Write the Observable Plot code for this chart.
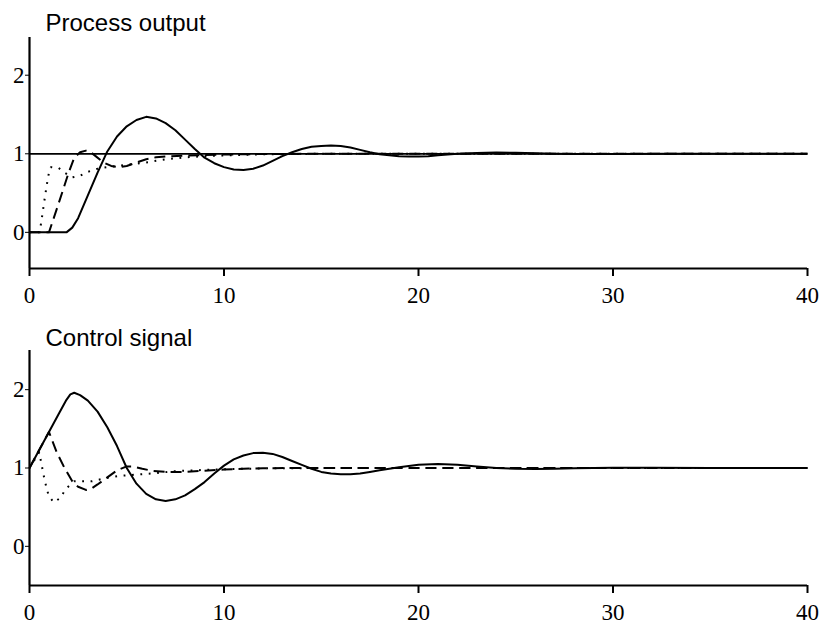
<!DOCTYPE html>
<html><head><meta charset="utf-8">
<script src="https://cdn.jsdelivr.net/npm/d3@7"></script>
<script src="https://cdn.jsdelivr.net/npm/@observablehq/plot@0.6"></script>
<style>
html,body{margin:0;padding:0;background:#fff}
#chart svg{display:block}
</style>
</head><body><div id="chart"></div>
<script>
// ---- tick labels / titles ----
const xTicks = [0, 10, 20, 30, 40];
const yTicks = [0, 1, 2];
const panelTitles = ["Process output", "Control signal"];
const setpoint = [1];

// ---- Process output: solid ----
const outSolidT = [0, 1.9, 2.2, 2.5, 3, 3.5, 4, 4.5, 5, 5.5, 6, 6.5, 7, 7.5, 8, 8.5, 9, 9.5, 10, 10.5, 11, 11.5, 12, 12.5, 13, 13.5, 14, 14.5, 15, 15.5, 16, 16.5, 17, 17.5, 18, 18.5, 19, 19.5, 20, 20.5, 21, 22, 23, 24, 25, 26, 27, 28, 30, 33, 40];
const outSolidV = [0, 0, 0.06, 0.18, 0.47, 0.76, 1.03, 1.22, 1.35, 1.43, 1.47, 1.45, 1.39, 1.30, 1.18, 1.06, 0.95, 0.88, 0.83, 0.80, 0.795, 0.81, 0.85, 0.91, 0.97, 1.02, 1.06, 1.09, 1.10, 1.105, 1.10, 1.08, 1.05, 1.02, 0.995, 0.98, 0.968, 0.965, 0.966, 0.97, 0.98, 1.0, 1.01, 1.015, 1.013, 1.008, 1.0, 0.997, 0.998, 1.0, 1.0];
// ---- Process output: dashed ----
const outDashT = [0, 1.0, 1.5, 2.0, 2.3, 2.6, 2.9, 3.1, 3.4, 3.8, 4.2, 4.6, 5.0, 5.5, 6.0, 6.5, 7, 8, 9, 10, 12, 15, 40];
const outDashV = [0, 0, 0.37, 0.75, 0.95, 1.02, 1.04, 1.03, 0.97, 0.89, 0.845, 0.83, 0.845, 0.89, 0.93, 0.955, 0.965, 0.975, 0.985, 0.99, 0.997, 1, 1];
// ---- Process output: dotted ----
const outDotT = [0, 0.5, 0.6, 0.75, 0.9, 1.0, 1.1, 1.5, 1.8, 2.2, 2.6, 3.0, 3.5, 4, 5, 6, 7, 8, 9, 10, 12, 15, 40];
const outDotV = [0, 0, 0.12, 0.38, 0.62, 0.76, 0.83, 0.82, 0.76, 0.70, 0.72, 0.77, 0.81, 0.83, 0.86, 0.89, 0.93, 0.955, 0.97, 0.98, 0.993, 1, 1];

// ---- Control signal: solid ----
const ctlSolidT = [0, 0.5, 1, 1.5, 1.9, 2.1, 2.3, 2.6, 3, 3.5, 4, 4.5, 5, 5.5, 6, 6.5, 7, 7.5, 8, 8.5, 9, 9.5, 10, 10.5, 11, 11.5, 12, 12.5, 13, 13.5, 14, 14.5, 15, 15.5, 16, 16.5, 17, 17.5, 18, 19, 20, 21, 22, 23, 24, 25, 26, 27, 28, 30, 32, 35, 40];
const ctlSolidV = [1, 1.23, 1.46, 1.69, 1.87, 1.94, 1.96, 1.93, 1.86, 1.72, 1.52, 1.28, 1.00, 0.80, 0.67, 0.60, 0.58, 0.60, 0.65, 0.73, 0.82, 0.93, 1.03, 1.11, 1.16, 1.19, 1.195, 1.18, 1.14, 1.09, 1.04, 0.99, 0.95, 0.93, 0.92, 0.92, 0.93, 0.95, 0.97, 1.01, 1.04, 1.05, 1.04, 1.02, 1.0, 0.99, 0.988, 0.99, 0.997, 1.003, 1.003, 1.0, 1.0];
// ---- Control signal: dashed ----
const ctlDashT = [0, 1, 1.4, 1.8, 2.2, 2.5, 2.9, 3.2, 3.5, 4, 4.5, 5, 5.3, 5.8, 6.3, 7, 8, 9, 10, 11, 12, 14, 40];
const ctlDashV = [1, 1.46, 1.2, 1.0, 0.83, 0.76, 0.72, 0.74, 0.79, 0.88, 0.97, 1.02, 1.02, 0.99, 0.965, 0.95, 0.95, 0.965, 0.98, 0.99, 0.997, 1, 1];
// ---- Control signal: dotted ----
const ctlDotT = [0, 0.5, 0.75, 0.9, 1.0, 1.25, 1.6, 1.85, 2.3, 2.7, 3.2, 3.9, 4.6, 5.5, 6.3, 7.5, 9, 10, 12, 15, 40];
const ctlDotV = [1, 1.2, 0.88, 0.72, 0.64, 0.56, 0.62, 0.73, 0.83, 0.83, 0.83, 0.87, 0.90, 0.915, 0.93, 0.96, 0.975, 0.985, 0.995, 1, 1];

const zip = (t, v) => t.map((ti, i) => ({t: ti, v: v[i]}));
const SERIF = "'Liberation Serif', 'Times New Roman', serif";
const SANS = "'Liberation Sans', Arial, sans-serif";

function panel({title, series, ref, yDomain, marginTop, marginBottom, titleDy}) {
  const styles = [null, "11,6", "1.8,6.6"];
  return Plot.plot({
    width: 821, height: 314,
    marginLeft: 29, marginRight: 14, marginTop, marginBottom,
    style: {background: "#fff", color: "#000", fontFamily: SERIF},
    x: {domain: [0, 40], label: null},
    y: {domain: yDomain, label: null},
    marks: [
      ref ? Plot.ruleY(ref, {stroke: "#000", strokeWidth: 1.8}) : null,
      ...series.map((d, i) => Plot.line(d, {x: "t", y: "v", stroke: "#000", strokeWidth: 2, strokeDasharray: styles[i], strokeLinecap: "butt"})),
      Plot.ruleX([0], {stroke: "#000", strokeWidth: 2.2}),
      Plot.ruleY([yDomain[0]], {stroke: "#000", strokeWidth: 2.2}),
      Plot.axisX({ticks: xTicks, tickFormat: d => `${d}`, tickSize: 8, tickPadding: 10, fontSize: 23, fontFamily: SERIF, strokeWidth: 2, label: null}),
      Plot.axisY({ticks: yTicks, tickFormat: d => `${d}`, tickSize: 4, tickPadding: 1, fontSize: 23, fontFamily: SERIF, strokeWidth: 1, label: null}),
      Plot.text([title], {text: d => d, frameAnchor: "top-left", dx: 16, dy: titleDy, textAnchor: "start", lineAnchor: "bottom", fontSize: 24, fontFamily: SANS, fill: "#000"})
    ]
  });
}

const chart = document.getElementById("chart");
chart.appendChild(panel({
  title: panelTitles[0],
  series: [zip(outSolidT, outSolidV), zip(outDashT, outDashV), zip(outDotT, outDotV)],
  ref: setpoint, yDomain: [-0.46, 2.48], marginTop: 37, marginBottom: 46, titleDy: -7
}));
chart.appendChild(panel({
  title: panelTitles[1],
  series: [zip(ctlSolidT, ctlSolidV), zip(ctlDashT, ctlDashV), zip(ctlDotT, ctlDotV)],
  ref: null, yDomain: [-0.5, 2.5], marginTop: 36, marginBottom: 43, titleDy: -5
}));
</script>
</body></html>
